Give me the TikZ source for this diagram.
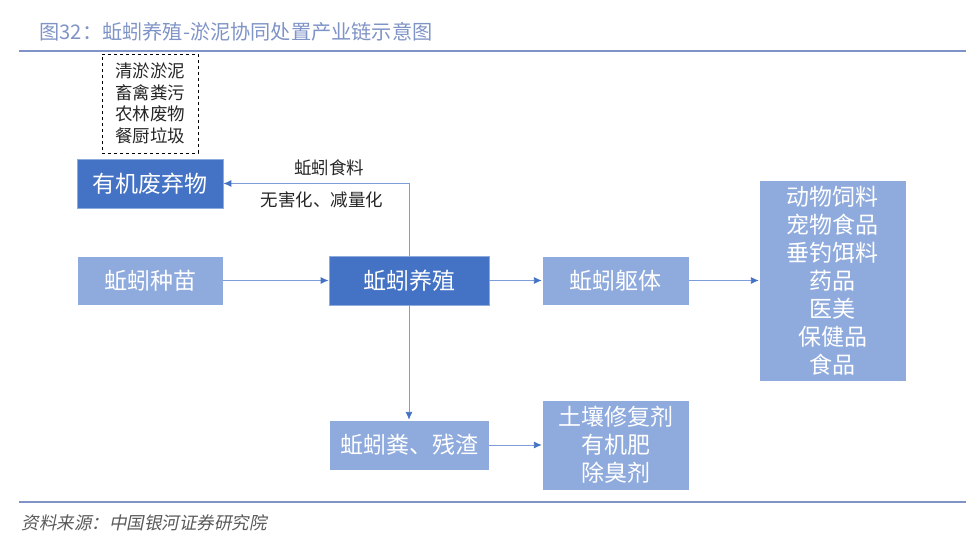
\documentclass[tikz,border=0pt]{standalone}
\usepackage{fontspec}
\setmainfont{Noto Sans CJK SC}
\newfontfamily\srcfont{Noto Sans CJK SC}[FakeSlant=0.2]
\usetikzlibrary{arrows.meta}
\definecolor{darkbox}{HTML}{4472C4}
\definecolor{lightbox}{HTML}{8FAADC}
\definecolor{rulecol}{HTML}{7F93C6}
\definecolor{linkcol}{HTML}{7D9DD8}
\tikzset{
  darkstep/.style={fill=darkbox,draw=lightbox,line width=.8pt,text=white,
    font=\fontsize{23}{28}\selectfont,inner sep=0pt},
  lightstep/.style={fill=lightbox,draw=white,line width=.4pt,text=white,
    font=\fontsize{23}{28}\selectfont,inner sep=0pt,align=center},
  link/.style={draw=linkcol,line width=.9pt,-{Latex[length=8pt,width=7pt,color=darkbox]}},
  note/.style={font=\fontsize{17.5}{21.7}\selectfont,text=black!85}
}
\begin{document}
\begin{tikzpicture}[x=1pt,y=-1pt]
\useasboundingbox (0,0) rectangle (966,548);
% title and rules
\node[anchor=west,text=rulecol,font=\fontsize{20.2}{24}\selectfont] (title) at (36,32) {图32：蚯蚓养殖-淤泥协同处置产业链示意图};
\draw[rulecol,line width=1.6pt] (19,51) -- (966,51);
\draw[rulecol,line width=1.6pt] (19,502) -- (966,502);
\node[anchor=west,text=black!65,font=\srcfont\fontsize{17.5}{20}\selectfont] (src) at (18,523) {资料来源：中国银河证券研究院};

% boxes
\node[draw,dashed,line width=.9pt,minimum width=96,minimum height=99,inner sep=0pt,
      align=center,note] (waste) at (150,103.5) {清淤淤泥\\畜禽粪污\\农林废物\\餐厨垃圾};
\node[darkstep,minimum width=146,minimum height=49] (organic) at (150,183.5) {有机废弃物};
\node[lightstep,minimum width=146,minimum height=49] (seed) at (150,280.5) {蚯蚓种苗};
\node[darkstep,minimum width=160,minimum height=49] (breed) at (409,280.5) {蚯蚓养殖};
\node[lightstep,minimum width=147,minimum height=49] (body) at (615.5,280.5) {蚯蚓躯体};
\node[lightstep,minimum width=147,minimum height=201] (use) at (832.5,280.5)
  {动物饲料\\宠物食品\\垂钓饵料\\药品\\医美\\保健品\\食品};
\node[lightstep,minimum width=160,minimum height=50] (dung) at (409,445) {蚯蚓粪、残渣};
\node[lightstep,minimum width=147,minimum height=90] (soil) at (615.5,445) {土壤修复剂\\有机肥\\除臭剂};

% connectors
\draw[link] (breed.north) |- (organic.east);
\node[note] (food) at (329,168) {蚯蚓食料};
\node[note] (harm) at (322,200) {无害化、减量化};
\draw[link] (seed) -- (breed);
\draw[link] (breed) -- (body);
\draw[link] (body) -- (use);
\draw[link] (breed) -- (dung);
\draw[link] (dung) -- (soil);
\end{tikzpicture}
\end{document}
